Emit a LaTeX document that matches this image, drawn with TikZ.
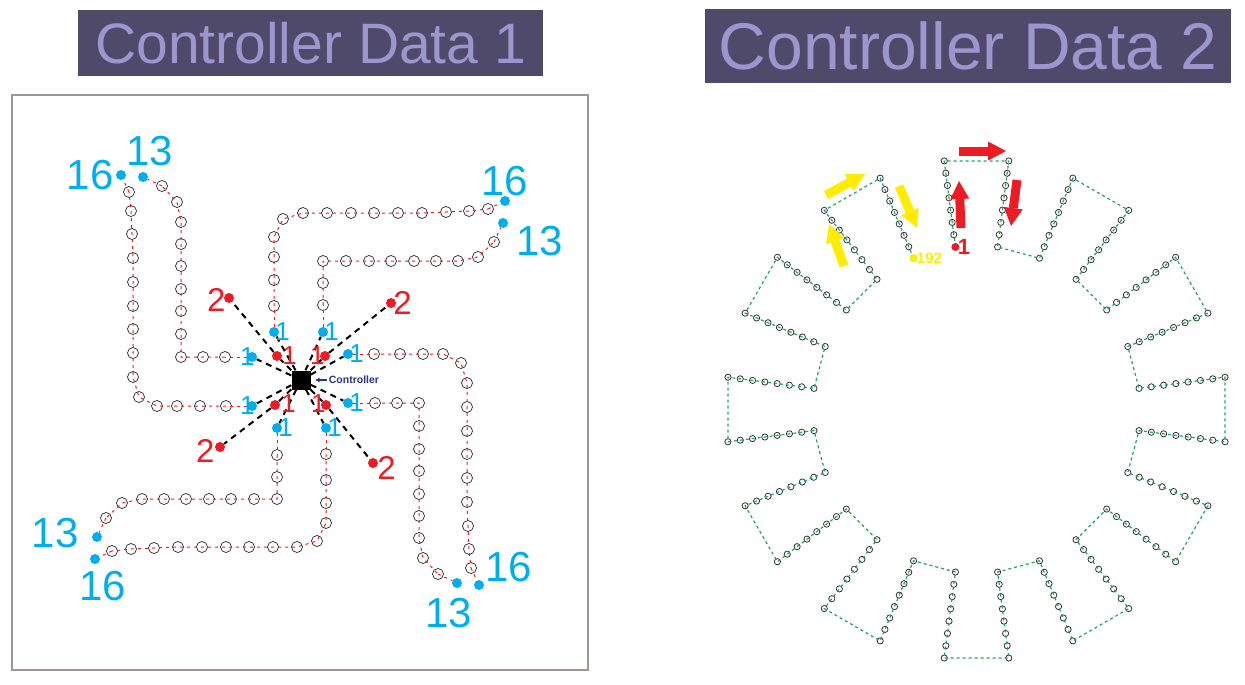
\documentclass[tikz,border=0pt]{standalone}
\usepackage{fontspec}
\setmainfont{Liberation Sans}
\usetikzlibrary{positioning,arrows.meta}

\definecolor{bannerbg}{RGB}{80,74,106}
\definecolor{bannertxt}{RGB}{155,150,205}
\definecolor{dotblue}{RGB}{0,174,239}
\definecolor{dotred}{RGB}{237,28,36}
\definecolor{geargreen}{RGB}{30,165,90}
\definecolor{ctlnavy}{RGB}{46,49,146}
\definecolor{boxgray}{RGB}{160,150,150}
\definecolor{arrowyellow}{RGB}{255,236,0}

\begin{document}
\begin{tikzpicture}[x=1pt, y=-1pt,
    banner/.style={fill=bannerbg, text=bannertxt, inner sep=0pt, anchor=north west},
    chainline/.style={dotred, line width=1pt, dash pattern=on 3pt off 4pt},
    cpt/.style={circle, draw=black!85, line width=0.7pt, minimum size=11pt, inner sep=0pt},
    bdot/.style={circle, fill=dotblue, minimum size=10pt, inner sep=0pt},
    rdot/.style={circle, fill=dotred, minimum size=10pt, inner sep=0pt},
    ctlline/.style={line width=2pt, dash pattern=on 6pt off 5pt},
    bignum/.style={text=dotblue, inner sep=0pt, font=\fontsize{42}{42}\selectfont},
    onenum/.style={inner sep=0pt, font=\fontsize{26}{26}\selectfont},
    twonum/.style={text=dotred, inner sep=0pt, font=\fontsize{33}{33}\selectfont},
    gearline/.style={geargreen, line width=1.2pt, dash pattern=on 3pt off 3pt},
    gpt/.style={circle, draw=black!80, line width=0.8pt, minimum size=6.2pt, inner sep=0pt},
    fatarrow/.style={line width=9pt, -{Triangle[length=18pt, width=19pt, line width=0pt]}}]

  \useasboundingbox (0,0) rectangle (1245,685);

  \node[banner, minimum width=465pt, minimum height=66pt, font=\fontsize{57}{57}\selectfont] (title1) at (78,10) {Controller Data 1};
  \node[banner, minimum width=526pt, minimum height=74pt, font=\fontsize{66}{66}\selectfont] (title2) at (705,9) {Controller Data 2};

  \draw[boxgray, line width=1.5pt] (12,95) rectangle (588,670);

  \node[fill=black, minimum size=19pt, inner sep=0pt] (ctl) at (301,380) {};
  \node[ctlnavy, inner sep=0pt, font=\bfseries\fontsize{10.5}{10.5}\selectfont, right=18pt of ctl] (ctltext) {Controller};
  \draw[ctlnavy, line width=1.2pt, -{Latex[length=5pt, width=5pt]}, shorten <=2pt, shorten >=4pt] (ctltext) -- (ctl);

  \foreach \k/\ang in {0/0,1/-90,2/-180,3/-270}{
    \begin{scope}[rotate around={\ang:(300,380)}]
      \foreach \x/\y [count=\i] in {252/357,225/357,203/357,181/357,181/334,181/311,181/289,181/266,181/244,181/222,177/202,162/186,143/177}{
        \ifnum\i=1 \def\sty{bdot}\else\ifnum\i=13 \def\sty{bdot}\else\def\sty{cpt}\fi\fi
        \node[\sty] (a\k-\i) at (\x,\y) {};
      }
      \foreach \x/\y [count=\i] in {252/406,226/406,200/406,177/406,157/406,139/397,133/377,133/353,133/329,133/306,133/282,133/258,132/234,131/211,129/192,121/175}{
        \ifnum\i=1 \def\sty{bdot}\else\ifnum\i=16 \def\sty{bdot}\else\def\sty{cpt}\fi\fi
        \node[\sty] (b\k-\i) at (\x,\y) {};
      }
    \end{scope}
    \draw[chainline] (a\k-2.center) \foreach \i in {3,...,12}{ -- (a\k-\i.center)};
    \draw[chainline] (a\k-1) -- (a\k-2.center);
    \draw[chainline] (a\k-12.center) -- (a\k-13);
    \draw[chainline] (b\k-2.center) \foreach \i in {3,...,15}{ -- (b\k-\i.center)};
    \draw[chainline] (b\k-1) -- (b\k-2.center);
    \draw[chainline] (b\k-15.center) -- (b\k-16);
    \draw[ctlline] (ctl) -- (a\k-1);
    \draw[ctlline] (ctl) -- (b\k-1);
  }

  \foreach \n/\ax/\ay/\bx/\by in {1/277/356/229/298, 2/325/356/391/303, 3/275/405/220/447, 4/326/405/373/463}{
    \node[rdot] (r\n-a) at (\ax,\ay) {};
    \node[rdot] (r\n-b) at (\bx,\by) {};
    \draw[ctlline] (ctl) -- (r\n-a);
    \draw[ctlline] (r\n-a) -- (r\n-b);
  }

  \node[onenum, text=dotred, right=0pt of r1-a] (r1-one) {1};
  \node[onenum, text=dotred, left=-5pt of r2-a] (r2-one) {1};
  \node[onenum, text=dotred, right=1pt of r3-a, yshift=1pt] (r3-one) {1};
  \node[onenum, text=dotred, left=-5pt of r4-a, yshift=1pt] (r4-one) {1};
  \node[twonum, left=-2pt of r1-b, yshift=-2pt] (r1-two) {2};
  \node[twonum, right=-3pt of r2-b] (r2-two) {2};
  \node[twonum, left=0pt of r3-b, yshift=-4pt] (r3-two) {2};
  \node[twonum, right=-1pt of r4-b, yshift=-5pt] (r4-two) {2};

  \node[onenum, text=dotblue, left=-8pt of a0-1] (a0-one) {1};
  \node[onenum, text=dotblue, left=-8pt of b0-1] (b0-one) {1};
  \foreach \k in {1,2,3}{
    \node[onenum, text=dotblue, right=-4pt of a\k-1] (a\k-one) {1};
    \node[onenum, text=dotblue, right=-4pt of b\k-1] (b\k-one) {1};
  }

  \node[bignum, left=2pt of b0-16] (b0-last) {16};
  \node[bignum, above=6pt of a0-13, xshift=7pt] (a0-last) {13};
  \node[bignum, above=0pt of b1-16] (b1-last) {16};
  \node[bignum, right=8pt of a1-13, yshift=-18pt] (a1-last) {13};
  \node[bignum, below=10pt of a2-13, xshift=-8pt] (a2-last) {13};
  \node[bignum, right=1pt of b2-16, yshift=18pt] (b2-last) {16};
  \node[bignum, left=13pt of a3-13, yshift=4pt] (a3-last) {13};
  \node[bignum, below=7pt of b3-16, xshift=8pt] (b3-last) {16};

  \begin{scope}[shift={(976.5,409.5)}]
    \foreach \k in {0,...,11}
      \foreach \j in {0,...,7}{
        \pgfmathsetmacro\r{163.9+12.39*\j}
        \pgfmathtruncatemacro\na{16*\k+\j+1}
        \pgfmathtruncatemacro\nb{16*\k+16-\j}
        \node[gpt] (g\na) at ({30*\k-97.4}:\r) {};
        \node[gpt] (g\nb) at ({30*\k-82.6}:\r) {};
      }
  \end{scope}
  \draw[gearline] (g1.center) \foreach \n in {2,...,192}{ -- (g\n.center)};

  \node[circle, fill=dotred, minimum size=8pt, inner sep=0pt] (gs) at (g1) {};
  \node[circle, fill=arrowyellow, minimum size=8pt, inner sep=0pt] (ge) at (g192) {};
  \node[text=dotred, inner sep=0pt, font=\bfseries\fontsize{22}{22}\selectfont, right=-2pt of gs] (gs-lab) {1};
  \node[text=arrowyellow, inner sep=0pt, font=\bfseries\fontsize{15}{15}\selectfont, right=-1pt of ge] (ge-lab) {192};

  \coordinate (rr0) at (959,151);
  \coordinate (rr1) at (1006,151);
  \coordinate (ru0) at (961,228);
  \coordinate (ru1) at (959,181);
  \coordinate (rd0) at (1017,180);
  \coordinate (rd1) at (1011,226);
  \coordinate (yu0) at (844,266);
  \coordinate (yu1) at (829,224);
  \coordinate (yr0) at (826,195);
  \coordinate (yr1) at (865,174);
  \coordinate (yd0) at (899,186);
  \coordinate (yd1) at (917,228);
  \draw[fatarrow, dotred] (rr0) -- (rr1);
  \draw[fatarrow, dotred] (ru0) -- (ru1);
  \draw[fatarrow, dotred] (rd0) -- (rd1);
  \draw[fatarrow, arrowyellow] (yu0) -- (yu1);
  \draw[fatarrow, arrowyellow] (yr0) -- (yr1);
  \draw[fatarrow, arrowyellow] (yd0) -- (yd1);
\end{tikzpicture}
\end{document}
